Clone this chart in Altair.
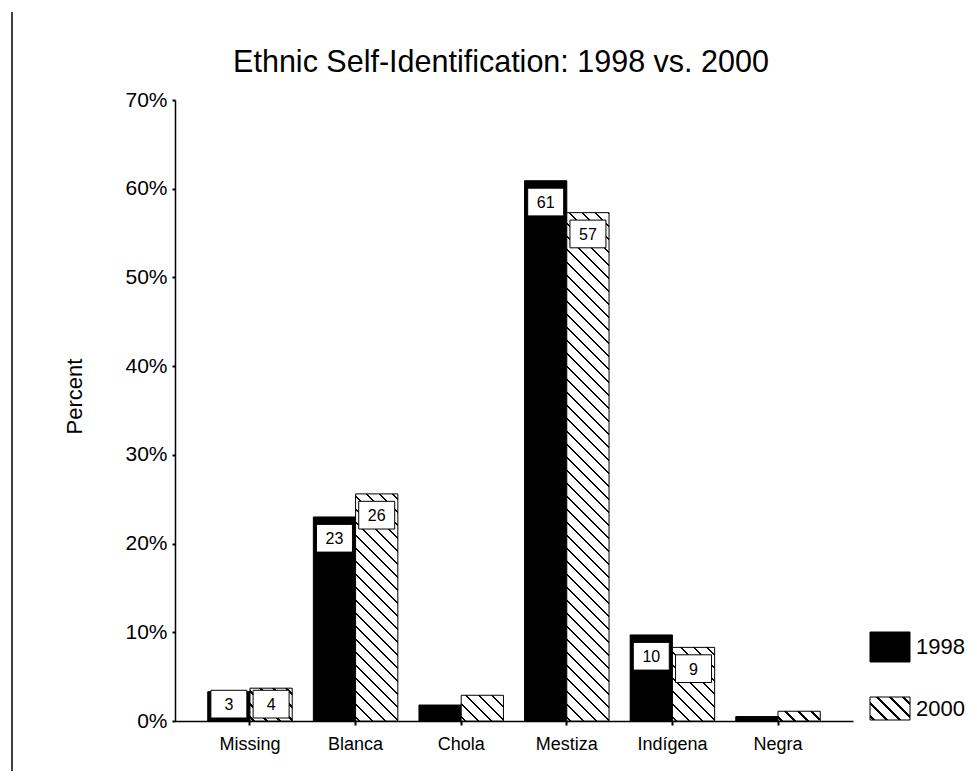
import math
import altair as alt
import pandas as pd

# ---------------- data ----------------
categories = ["Missing", "Blanca", "Chola", "Mestiza", "Indígena", "Negra"]
pct_1998 = [3.3, 23.0, 1.8, 60.9, 9.7, 0.5]
pct_2000 = [3.7, 25.6, 2.9, 57.3, 8.3, 1.1]
labels_1998 = ["3", "23", "", "61", "10", ""]
labels_2000 = ["4", "26", "", "57", "9", ""]
years = ["1998", "2000"]
y_ticks = [0, 10, 20, 30, 40, 50, 60, 70]

rows = []
for c, v1, v2, l1, l2 in zip(categories, pct_1998, pct_2000, labels_1998, labels_2000):
    rows.append({"cat": c, "year": "1998", "value": v1, "label": l1})
    rows.append({"cat": c, "year": "2000", "value": v2, "label": l2})
df = pd.DataFrame(rows)

# ---------------- layout / style ----------------
W, H = 678, 621
FONT = "Liberation Sans"
PX_PER_UNIT = H / 70.0
BAR_W = 42.2


def hatch(w, h, spacing=13.0, lw=1.5):
    """Diagonal '\\' hatch as a linear gradient in bounding-box units."""
    tot = w + h
    s = tot / (w * w + h * h)
    half = lw * math.sqrt(2) / 2
    stops = [{"offset": 0, "color": "white"}]
    c = -h + 4.0
    while c < w + half:
        t0 = max(0.0, min(1.0, (c - half + h) / tot))
        t1 = max(0.0, min(1.0, (c + half + h) / tot))
        stops += [
            {"offset": t0, "color": "white"},
            {"offset": t0, "color": "black"},
            {"offset": t1, "color": "black"},
            {"offset": t1, "color": "white"},
        ]
        c += spacing
    stops.append({"offset": 1, "color": "white"})
    return {"gradient": "linear", "x1": 0, "y1": 1, "x2": s * w, "y2": 1 - s * h, "stops": stops}


x_enc = alt.X(
    "cat:N",
    sort=categories,
    scale=alt.Scale(paddingInner=0.2, paddingOuter=0.31),
    axis=alt.Axis(
        title=None, labelAngle=0, labelFont=FONT, labelFontSize=18, labelColor="black",
        labelPadding=10, tickSize=4, tickWidth=2, tickColor="black",
        domainColor="black", domainWidth=1.5,
    ),
)
xo_enc = alt.XOffset("year:N", sort=years, scale=alt.Scale(paddingInner=0, paddingOuter=0))
y_scale = alt.Scale(domain=[0, 70], nice=False)
y_enc = alt.Y(
    "value:Q",
    scale=y_scale,
    axis=alt.Axis(
        values=y_ticks, labelExpr="datum.value + '%'", grid=False,
        labelFont=FONT, labelFontSize=21, labelColor="black", labelPadding=5,
        tickSize=3, tickWidth=2, tickColor="black", domainColor="black", domainWidth=1.5,
        title="Percent", titleFont=FONT, titleFontSize=22, titleFontWeight="normal",
        titleColor="black", titleX=-101, titleY=296, titleAngle=-90,
        titleAlign="center", titleBaseline="middle",
    ),
)

base = alt.Chart(df)

bars_1998 = base.transform_filter(alt.datum.year == "1998").mark_bar(
    fill="black", stroke="black", strokeWidth=1
).encode(x=x_enc, xOffset=xo_enc, y=y_enc)

layers = [bars_1998]
for c, v in zip(categories, pct_2000):
    layers.append(
        base.transform_filter((alt.datum.year == "2000") & (alt.datum.cat == c)).mark_bar(
            fill=hatch(BAR_W, v * PX_PER_UNIT), stroke="black", strokeWidth=1
        ).encode(x=x_enc, xOffset=xo_enc, y=y_enc)
    )

lab = base.transform_filter(alt.datum.label != "").transform_calculate(
    ly="max(datum.value - 2.4, 1.9)"
)
box_path = "M-1,-0.77H1V0.77H-1Z"
boxes = lab.mark_point(
    shape=box_path, size=36 * 36, filled=True, fill="white", stroke="black",
    strokeWidth=1, opacity=1,
).encode(x=x_enc, xOffset=xo_enc, y=alt.Y("ly:Q", scale=y_scale))
texts = lab.mark_text(font=FONT, fontSize=16, color="black", baseline="middle", dy=1).encode(
    x=x_enc, xOffset=xo_enc, y=alt.Y("ly:Q", scale=y_scale), text="label:N"
)
layers += [boxes, texts]

# ---------------- manual legend and page frame line ----------------
one = pd.DataFrame({"k": [0]})
leg_src = alt.Chart(one)
leg_1998 = leg_src.mark_rect(fill="black", stroke="black").encode(
    x=alt.value(695), x2=alt.value(735), y=alt.value(532), y2=alt.value(562)
)
leg_2000 = leg_src.mark_rect(fill=hatch(40, 23, spacing=13.0), stroke="black", strokeWidth=1).encode(
    x=alt.value(695), x2=alt.value(735), y=alt.value(597), y2=alt.value(620)
)
leg_t1 = leg_src.mark_text(font=FONT, fontSize=22, align="left", baseline="middle").encode(
    x=alt.value(741), y=alt.value(547), text=alt.value(years[0])
)
leg_t2 = leg_src.mark_text(font=FONT, fontSize=22, align="left", baseline="middle").encode(
    x=alt.value(741), y=alt.value(609), text=alt.value(years[1])
)
frame = leg_src.mark_rule(color="black", strokeWidth=1.5).encode(
    x=alt.value(-163), y=alt.value(-88), y2=alt.value(700)
)
layers += [leg_1998, leg_2000, leg_t1, leg_t2, frame]

chart = alt.layer(*layers).properties(
    width=W,
    height=H,
    background="white",
    autosize=alt.AutoSizeParams(type="none"),
    padding={"left": 167, "top": 92, "right": 116, "bottom": 50},
    title=alt.TitleParams(
        "Ethnic Self-Identification: 1998 vs. 2000",
        font=FONT, fontSize=30.5, fontWeight="normal", color="black",
        anchor="middle", frame="group", dx=-13, offset=0, dy=67,
    ),
).configure_view(stroke="transparent", strokeWidth=0)

chart.save("out.html", embed_options={"renderer": "svg", "actions": False})
